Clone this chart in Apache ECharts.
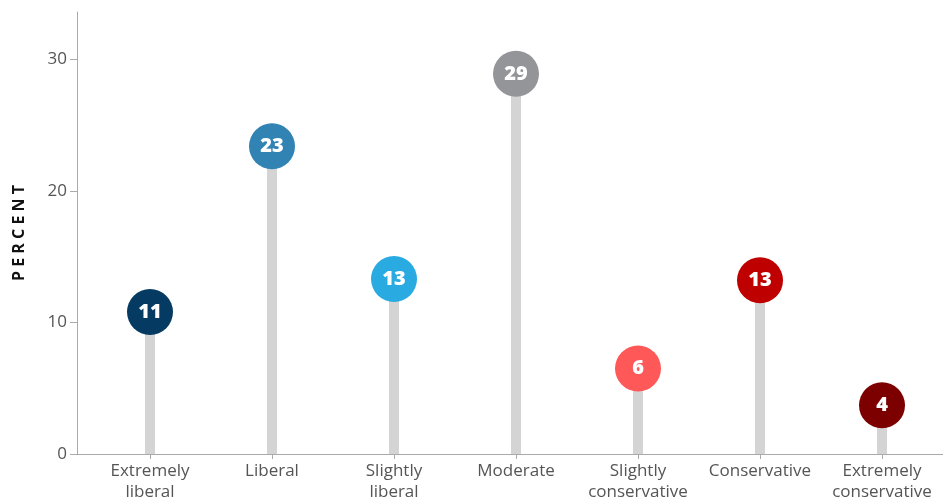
<!DOCTYPE html>
<html>
<head>
<meta charset="utf-8">
<script src="https://cdn.jsdelivr.net/npm/echarts@6/dist/echarts.min.js"></script>
<style>
  html, body { margin: 0; padding: 0; background: #fff; }
  #chart { width: 943px; height: 501px; }
</style>
</head>
<body>
<div id="chart"></div>
<script>
// 数据
var categories = ["Extremely\nliberal", "Liberal", "Slightly\nliberal", "Moderate", "Slightly\nconservative", "Conservative", "Extremely\nconservative"];
var values = [10.8, 23.4, 13.3, 28.9, 6.5, 13.2, 3.7];
var labels = ["11", "23", "13", "29", "6", "13", "4"];
var dotColors = ["#053a63", "#3183b4", "#29abe2", "#939598", "#ff5858", "#be0000", "#7d0000"];
var yTicks = [0, 10, 20, 30];

var FONT = "Open Sans";
var chart = echarts.init(document.getElementById("chart"));

chart.setOption({
    animation: false,
    grid: [
        { left: 77, right: 0, top: 12, bottom: 47, outerBoundsMode: "none" },   // 坐标轴外框
        { left: 89, right: 0, top: 12, bottom: 47, outerBoundsMode: "none" }    // 数据区
    ],
    xAxis: [{
        gridIndex: 0,
        type: "value",
        min: 0, max: 1,
        axisLine: { show: true, lineStyle: { color: "#aaa", width: 1 } },
        axisTick: { show: false },
        axisLabel: { show: false },
        splitLine: { show: false }
    }, {
        gridIndex: 1,
        type: "category",
        data: categories,
        axisLine: { show: false },
        axisTick: { show: true, alignWithLabel: true, length: 5, lineStyle: { color: "#aaa" } },
        axisLabel: {
            color: "#555", fontFamily: FONT, fontSize: 17, lineHeight: 21, margin: 7,
            interval: 0
        },
        splitLine: { show: false }
    }],
    yAxis: [{
        gridIndex: 0,
        type: "value",
        min: 0, max: 33.6,
        name: "P E R C E N T",
        nameLocation: "middle",
        nameGap: 50,
        nameRotate: 90,
        nameTextStyle: { color: "#111", fontFamily: FONT, fontSize: 16, fontWeight: "bold" },
        axisLine: { show: true, lineStyle: { color: "#aaa", width: 1 } },
        axisTick: { show: true, length: 7, customValues: yTicks, lineStyle: { color: "#aaa" } },
        axisLabel: { color: "#555", fontFamily: FONT, fontSize: 17, margin: 10, customValues: yTicks },
        splitLine: { show: false }
    }, {
        gridIndex: 1,
        type: "value",
        min: 0, max: 33.6,
        show: false,
        splitLine: { show: false }
    }],
    series: [{
        // 棒
        type: "bar",
        xAxisIndex: 1, yAxisIndex: 1,
        data: values,
        barWidth: 10,
        itemStyle: { color: "#d4d4d4" },
        silent: true
    }, {
        // 圆点
        type: "scatter",
        xAxisIndex: 1, yAxisIndex: 1,
        symbol: "circle",
        symbolSize: 46,
        data: values.map(function (v, i) {
            return { value: v, itemStyle: { color: dotColors[i], opacity: 1 } };
        }),
        label: {
            show: true,
            position: "inside",
            color: "#fff",
            fontFamily: FONT,
            fontWeight: 800,
            fontSize: 20,
            formatter: function (p) { return labels[p.dataIndex]; }
        },
        z: 5
    }]
});
</script>
</body>
</html>
